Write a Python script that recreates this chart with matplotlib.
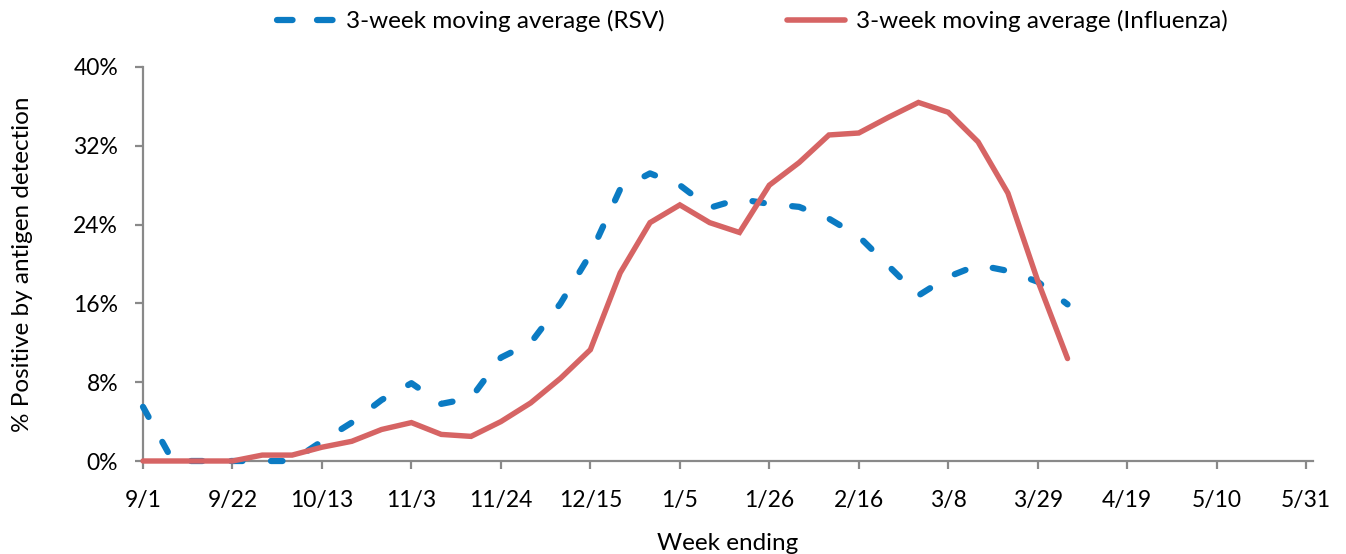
import matplotlib
matplotlib.use("Agg")
import matplotlib.pyplot as plt
from matplotlib.lines import Line2D
import numpy as np

plt.rcParams['font.family'] = ['Lato', 'DejaVu Sans']
plt.rcParams['lines.scale_dashes'] = False

# ---- data ----
tick_labels = ["9/1", "9/22", "10/13", "11/3", "11/24", "12/15", "1/5",
               "1/26", "2/16", "3/8", "3/29", "4/19", "5/10", "5/31"]
rsv = [5.5, 0, 0, 0, 0, 0, 2.0, 3.9, 6.2, 7.9, 5.8, 6.4, 10.5, 12.0, 16.0,
       21.0, 27.6, 29.2, 28.0, 25.7, 26.6, 26.1, 25.8, 24.6, 22.8, 19.8,
       16.8, 18.7, 19.9, 19.3, 18.2, 15.9]
flu = [0, 0, 0, 0, 0.6, 0.6, 1.4, 2.0, 3.2, 3.9, 2.7, 2.5, 4.0, 5.9, 8.4,
       11.3, 19.1, 24.2, 26.0, 24.2, 23.2, 28.0, 30.3, 33.1, 33.3, 34.9,
       36.4, 35.4, 32.4, 27.2, 18.3, 10.4]
y_ticks = [0, 8, 16, 24, 32, 40]
rsv_label = "3-week moving average (RSV)"
flu_label = "3-week moving average (Influenza)"
x_label = "Week ending"
y_label = "% Positive by antigen detection"

blue = '#0B7BC3'
red = '#D66464'
gray = '#898989'

fig = plt.figure(figsize=(13.46, 5.54), dpi=100)
ax = fig.add_axes([143/1346, 1-461/554, (1313-143)/1346, (461-67)/554])

weeks = np.arange(len(rsv))
ax.plot(weeks, rsv, color=blue, lw=4.5, dashes=(8.3, 20.5),
        dash_capstyle='round', solid_capstyle='round', clip_on=False, zorder=3)
ax.plot(np.arange(len(flu)), flu, color=red, lw=3.9,
        solid_capstyle='round', solid_joinstyle='miter', clip_on=False, zorder=4)

ax.set_xlim(0, 39.23)
ax.set_ylim(0, 40)
ax.set_xticks(np.arange(0, 40, 3))
ax.set_xticklabels(tick_labels)
ax.set_yticks(y_ticks)
ax.set_yticklabels([f"{v}%" for v in y_ticks])

for s in ['top', 'right']:
    ax.spines[s].set_visible(False)
for s in ['left', 'bottom']:
    ax.spines[s].set_color(gray)
    ax.spines[s].set_linewidth(1.6)
ax.tick_params(axis='both', colors=gray, width=1.6, length=6, labelsize=16.5,
               labelcolor='black')
ax.tick_params(axis='x', pad=15)
ax.tick_params(axis='y', pad=12)

ax.set_xlabel(x_label, fontsize=17.5, labelpad=16)
ax.set_ylabel(y_label, fontsize=17.5, labelpad=29)

handles = [Line2D([], [], color=blue, lw=4.5, dashes=(11.2, 17.6), dash_capstyle='round'),
           Line2D([], [], color=red, lw=4.0, solid_capstyle='round')]
fig.legend(handles, [rsv_label, flu_label], loc='center',
           bbox_to_anchor=(0.559, 1-21/554), ncol=2, frameon=False,
           fontsize=17.5, handlelength=2.4, handletextpad=0.45,
           columnspacing=5.0)

fig.savefig("out.png", dpi=100)
